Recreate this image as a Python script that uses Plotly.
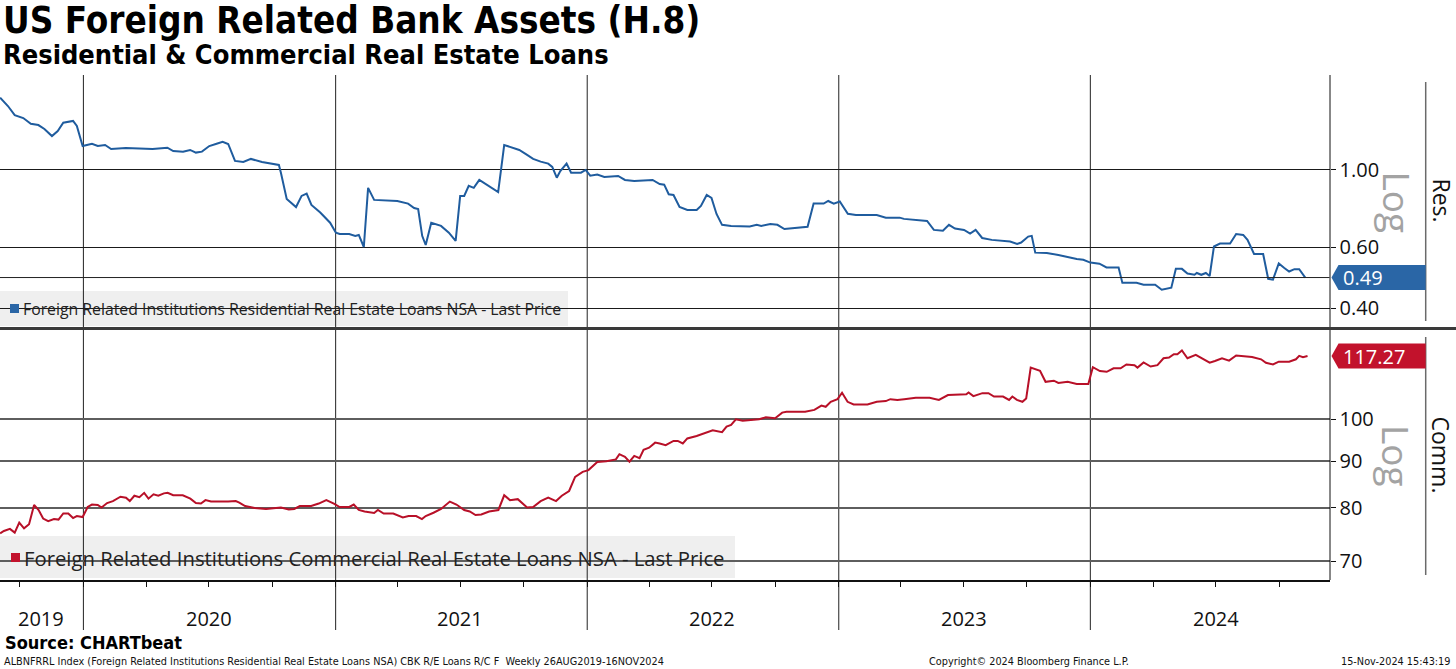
import math
import pandas as pd
import plotly.graph_objects as go

# ---------------- data (decimal years) ----------------
TITLE = "US Foreign Related Bank Assets (H.8)"
SUBTITLE = "Residential & Commercial Real Estate Loans"
RES_NAME = "Foreign Related Institutions Residential Real Estate Loans NSA - Last Price"
COM_NAME = "Foreign Related Institutions Commercial Real Estate Loans NSA - Last Price"

res_t = [2019.669, 2019.700, 2019.727, 2019.761, 2019.791, 2019.821, 2019.845, 2019.875, 2019.898, 2019.920,
         2019.959, 2019.974, 2019.997, 2020.034, 2020.057, 2020.086, 2020.110, 2020.168, 2020.274, 2020.333,
         2020.356, 2020.395, 2020.423, 2020.446, 2020.470, 2020.499, 2020.528, 2020.552, 2020.574, 2020.601,
         2020.634, 2020.664, 2020.708, 2020.753, 2020.775, 2020.783, 2020.806, 2020.843, 2020.865, 2020.885,
         2020.904, 2020.939, 2020.978, 2021.001, 2021.016, 2021.054, 2021.078, 2021.092, 2021.112, 2021.129,
         2021.153, 2021.245, 2021.288, 2021.312, 2021.328, 2021.344, 2021.358, 2021.380, 2021.419, 2021.450,
         2021.477, 2021.495, 2021.511, 2021.529, 2021.549, 2021.571, 2021.610, 2021.646, 2021.670, 2021.702,
         2021.730, 2021.761, 2021.785, 2021.815, 2021.845, 2021.861, 2021.879, 2021.893, 2021.918, 2021.936,
         2021.975, 2021.994, 2022.012, 2022.040, 2022.068, 2022.123, 2022.150, 2022.187, 2022.260, 2022.288,
         2022.306, 2022.324, 2022.343, 2022.367, 2022.398, 2022.435, 2022.452, 2022.475, 2022.494, 2022.514,
         2022.536, 2022.572, 2022.646, 2022.674, 2022.692, 2022.728, 2022.756, 2022.784, 2022.828, 2022.876,
         2022.900, 2022.940, 2022.958, 2022.980, 2023.004, 2023.036, 2023.068, 2023.151, 2023.187, 2023.242,
         2023.259, 2023.351, 2023.378, 2023.414, 2023.438, 2023.462, 2023.498, 2023.522, 2023.544, 2023.570,
         2023.608, 2023.644, 2023.681, 2023.709, 2023.725, 2023.753, 2023.767, 2023.781, 2023.827, 2023.873,
         2023.919, 2023.946, 2023.972, 2024.000, 2024.036, 2024.064, 2024.112, 2024.127, 2024.183, 2024.211,
         2024.257, 2024.283, 2024.321, 2024.339, 2024.363, 2024.385, 2024.413, 2024.422, 2024.440, 2024.458,
         2024.473, 2024.490, 2024.514, 2024.554, 2024.578, 2024.606, 2024.623, 2024.649, 2024.685, 2024.705,
         2024.724, 2024.747, 2024.769, 2024.788, 2024.809, 2024.828, 2024.852]
res_v = [1.615, 1.528, 1.439, 1.411, 1.359, 1.347, 1.312, 1.252, 1.295, 1.368,
         1.384, 1.339, 1.172, 1.190, 1.172, 1.180, 1.149, 1.157, 1.149, 1.159,
         1.134, 1.129, 1.142, 1.122, 1.129, 1.172, 1.190, 1.206, 1.188, 1.062,
         1.054, 1.076, 1.054, 1.041, 1.034, 0.982, 0.825, 0.782, 0.842, 0.855,
         0.793, 0.754, 0.705, 0.660, 0.654, 0.654, 0.646, 0.650, 0.600, 0.888,
         0.820, 0.814, 0.800, 0.777, 0.772, 0.646, 0.608, 0.705, 0.690, 0.660,
         0.625, 0.842, 0.842, 0.900, 0.888, 0.936, 0.900, 0.864, 1.180, 1.159,
         1.142, 1.105, 1.076, 1.057, 1.043, 1.020, 0.950, 0.993, 1.043, 0.982,
         0.982, 1.000, 0.963, 0.970, 0.955, 0.961, 0.936, 0.930, 0.936, 0.911,
         0.907, 0.851, 0.847, 0.782, 0.767, 0.767, 0.788, 0.847, 0.831, 0.747,
         0.695, 0.690, 0.687, 0.695, 0.690, 0.699, 0.695, 0.676, 0.681, 0.686,
         0.800, 0.800, 0.814, 0.800, 0.811, 0.748, 0.742, 0.742, 0.729, 0.729,
         0.723, 0.713, 0.672, 0.668, 0.695, 0.678, 0.672, 0.656, 0.672, 0.637,
         0.629, 0.625, 0.622, 0.612, 0.618, 0.643, 0.646, 0.578, 0.577, 0.569,
         0.559, 0.554, 0.551, 0.541, 0.537, 0.524, 0.524, 0.473, 0.473, 0.467,
         0.467, 0.452, 0.458, 0.519, 0.519, 0.503, 0.499, 0.505, 0.499, 0.505,
         0.495, 0.602, 0.614, 0.614, 0.654, 0.650, 0.629, 0.573, 0.573, 0.486,
         0.483, 0.538, 0.522, 0.510, 0.518, 0.518, 0.490]

com_t = [2019.669, 2019.684, 2019.708, 2019.727, 2019.745, 2019.764, 2019.784, 2019.804, 2019.822, 2019.840,
         2019.860, 2019.883, 2019.901, 2019.920, 2019.940, 2019.959, 2019.974, 2019.997, 2020.017, 2020.034,
         2020.057, 2020.072, 2020.094, 2020.117, 2020.147, 2020.169, 2020.184, 2020.202, 2020.222, 2020.241,
         2020.258, 2020.278, 2020.297, 2020.319, 2020.334, 2020.356, 2020.394, 2020.424, 2020.446, 2020.466,
         2020.484, 2020.506, 2020.574, 2020.604, 2020.618, 2020.641, 2020.679, 2020.724, 2020.783, 2020.814,
         2020.836, 2020.858, 2020.903, 2020.933, 2020.963, 2020.993, 2021.016, 2021.054, 2021.072, 2021.092,
         2021.115, 2021.153, 2021.168, 2021.191, 2021.229, 2021.267, 2021.290, 2021.320, 2021.343, 2021.358,
         2021.389, 2021.419, 2021.454, 2021.480, 2021.511, 2021.533, 2021.556, 2021.579, 2021.610, 2021.647,
         2021.670, 2021.693, 2021.724, 2021.761, 2021.785, 2021.815, 2021.845, 2021.876, 2021.899, 2021.928,
         2021.952, 2021.982, 2022.005, 2022.040, 2022.076, 2022.114, 2022.128, 2022.150, 2022.168, 2022.187,
         2022.208, 2022.224, 2022.246, 2022.270, 2022.288, 2022.312, 2022.343, 2022.360, 2022.380, 2022.398,
         2022.435, 2022.472, 2022.499, 2022.536, 2022.554, 2022.572, 2022.591, 2022.618, 2022.655, 2022.683,
         2022.710, 2022.747, 2022.775, 2022.792, 2022.866, 2022.903, 2022.931, 2022.948, 2022.968, 2022.995,
         2023.013, 2023.035, 2023.059, 2023.114, 2023.151, 2023.187, 2023.205, 2023.233, 2023.260, 2023.306,
         2023.361, 2023.398, 2023.434, 2023.507, 2023.516, 2023.535, 2023.571, 2023.595, 2023.617, 2023.653,
         2023.677, 2023.690, 2023.708, 2023.730, 2023.745, 2023.763, 2023.800, 2023.822, 2023.855, 2023.873,
         2023.910, 2023.946, 2023.992, 2024.010, 2024.038, 2024.065, 2024.092, 2024.120, 2024.143, 2024.175,
         2024.187, 2024.211, 2024.239, 2024.266, 2024.290, 2024.312, 2024.331, 2024.345, 2024.363, 2024.385,
         2024.418, 2024.444, 2024.473, 2024.494, 2024.522, 2024.550, 2024.578, 2024.641, 2024.677, 2024.696,
         2024.724, 2024.747, 2024.788, 2024.815, 2024.828, 2024.843, 2024.861]
com_v = [75.05, 75.5, 75.9, 75.2, 77.1, 76.0, 76.8, 80.6, 79.6, 77.9,
         77.4, 77.8, 77.7, 78.9, 78.9, 78.0, 78.4, 78.2, 80.2, 80.7,
         80.6, 80.1, 81.0, 81.4, 82.3, 82.1, 81.4, 82.5, 82.2, 83.1,
         81.9, 82.8, 82.5, 83.0, 83.1, 82.6, 82.6, 81.9, 81.0, 80.9,
         81.6, 81.3, 81.3, 81.4, 81.1, 80.4, 80.0, 79.8, 80.1, 79.7,
         79.8, 80.4, 80.4, 80.9, 81.6, 80.9, 80.2, 80.2, 80.7, 79.6,
         79.3, 79.0, 79.6, 78.9, 78.9, 78.1, 78.4, 78.4, 77.8, 78.4,
         79.05, 79.8, 81.3, 80.7, 79.6, 79.3, 78.6, 78.7, 79.3, 79.6,
         82.6, 81.6, 81.8, 80.1, 80.2, 81.4, 82.1, 81.4, 82.5, 83.5,
         86.5, 87.6, 88.0, 89.8, 90.0, 90.4, 91.6, 91.0, 89.9, 91.2,
         90.7, 92.6, 93.1, 94.3, 94.1, 93.7, 94.7, 94.7, 94.1, 95.3,
         95.9, 96.8, 97.3, 96.8, 98.2, 98.6, 100.0, 99.65, 99.8, 100.0,
         100.5, 100.25, 101.7, 101.9, 101.9, 102.4, 103.5, 103.2, 104.5, 105.2,
         106.9, 104.5, 103.8, 103.8, 104.5, 104.7, 105.2, 105.0, 105.2, 105.6,
         105.6, 105.0, 106.3, 106.5, 107.0, 106.0, 106.8, 106.8, 105.9, 105.9,
         105.0, 105.9, 105.0, 104.5, 105.4, 113.9, 113.0, 109.9, 110.2, 109.6,
         109.9, 109.3, 109.3, 114.0, 112.9, 112.7, 113.7, 113.7, 114.8, 114.6,
         113.9, 115.4, 114.2, 114.6, 116.6, 116.8, 117.8, 117.8, 118.9, 116.6,
         117.6, 116.6, 115.3, 115.8, 116.6, 115.9, 117.4, 117.0, 116.3, 115.3,
         114.8, 115.6, 115.6, 116.3, 117.3, 116.9, 117.27]

RES_TICKS = [0.40, 0.60, 1.00]
COM_TICKS = [70, 80, 90, 100]
RES_RANGE = [0.353, 1.877]
COM_RANGE = [66.74, 125.2]
X_RANGE = ["2019-09-02", "2024-12-13"]
YEAR_STARTS = ["2020-01-01", "2021-01-01", "2022-01-01", "2023-01-01", "2024-01-01"]
YEAR_LABELS = ["2019", "2020", "2021", "2022", "2023", "2024"]
YEAR_LABEL_AT = ["2019-10-31", "2020-07-01", "2021-07-01", "2022-07-01", "2023-07-01", "2024-07-01"]

SOURCE = "Source: CHARTbeat"
FOOT_LEFT = "ALBNFRRL Index (Foreign Related Institutions Residential Real Estate Loans NSA) CBK R/E Loans R/C F  Weekly 26AUG2019-16NOV2024"
FOOT_MID = "Copyright\u00a9 2024 Bloomberg Finance L.P."
FOOT_RIGHT = "15-Nov-2024 15:43:19"

# ---------------- helpers ----------------
def to_date(t):
    y = int(math.floor(t))
    start = pd.Timestamp(year=y, month=1, day=1)
    days = (pd.Timestamp(year=y + 1, month=1, day=1) - start).days
    return start + pd.Timedelta(days=(t - y) * days)

res_dates = [to_date(t) for t in res_t]
com_dates = [to_date(t) for t in com_t]

W, H = 1456, 669
def px(p):
    return p / W
def py(p):
    return 1 - p / H

PR = 1329.5  # right edge of plot area (px)
BLUE = "#1f5c9e"
BLUE_BOX = "#2a66a6"
RED = "#b81028"
RED_BOX = "#c2122c"
TICK_FONT = dict(family="Open Sans, Noto Sans, sans-serif", size=20, color="#111")
COND = "DejaVu Sans Condensed, DejaVu Sans, sans-serif"

fig = go.Figure()
fig.add_trace(go.Scatter(x=com_dates, y=com_v, mode="lines", line=dict(color=RED, width=2),
                         xaxis="x", yaxis="y", showlegend=False, hoverinfo="skip"))
fig.add_trace(go.Scatter(x=res_dates, y=res_v, mode="lines", line=dict(color=BLUE, width=2),
                         xaxis="x", yaxis="y2", showlegend=False, hoverinfo="skip"))

shapes = []
annotations = []

# legend boxes (behind grid)
shapes.append(dict(type="rect", xref="paper", yref="paper", x0=0, x1=px(568), y0=py(326), y1=py(291),
                   fillcolor="#efefef", line=dict(width=0), layer="below"))
shapes.append(dict(type="rect", xref="paper", yref="paper", x0=0, x1=px(735), y0=py(578), y1=py(536),
                   fillcolor="#efefef", line=dict(width=0), layer="below"))
shapes.append(dict(type="rect", xref="paper", yref="paper", x0=px(10), x1=px(19), y0=py(313), y1=py(304),
                   fillcolor=BLUE_BOX, line=dict(width=0)))
shapes.append(dict(type="rect", xref="paper", yref="paper", x0=px(11), x1=px(20), y0=py(562), y1=py(553),
                   fillcolor=RED_BOX, line=dict(width=0)))
annotations.append(dict(text=RES_NAME, xref="paper", yref="paper", x=px(21), y=py(309), xanchor="left",
                        yanchor="middle", showarrow=False, font=dict(family="Open Sans, sans-serif", size=15.8, color="#222")))
annotations.append(dict(text=COM_NAME, xref="paper", yref="paper", x=px(22), y=py(558), xanchor="left",
                        yanchor="middle", showarrow=False, font=dict(family="Open Sans, sans-serif", size=20.3, color="#222")))

# year separators
for d in YEAR_STARTS:
    shapes.append(dict(type="line", xref="x", yref="paper", x0=d, x1=d, y0=py(630), y1=py(75),
                       line=dict(color="#222", width=1), layer="below"))
for lab, d in zip(YEAR_LABELS, YEAR_LABEL_AT):
    annotations.append(dict(text=lab, xref="x", yref="paper", x=d, y=py(618), xanchor="center",
                            yanchor="middle", showarrow=False, font=TICK_FONT))

# last-price line in the residential panel
shapes.append(dict(type="line", xref="paper", yref="y2", x0=0, x1=px(PR), y0=res_v[-1], y1=res_v[-1],
                   line=dict(color="#222", width=1)))

# right border, separator, side rails
shapes.append(dict(type="line", xref="paper", yref="paper", x0=px(PR + 0.5), x1=px(PR + 0.5), y0=py(580), y1=py(75),
                   line=dict(color="#111", width=1)))
shapes.append(dict(type="line", xref="paper", yref="paper", x0=0, x1=1, y0=py(328.5), y1=py(328.5),
                   line=dict(color="#3a3a3a", width=3)))
shapes.append(dict(type="line", xref="paper", yref="paper", x0=px(1425.7), x1=px(1425.7), y0=py(321), y1=py(82),
                   line=dict(color="#6a6a6a", width=1.5)))
shapes.append(dict(type="line", xref="paper", yref="paper", x0=px(1425.7), x1=px(1425.7), y0=py(575), y1=py(337),
                   line=dict(color="#6a6a6a", width=1.5)))

# value tags (pentagon pointing left) anchored to last values
for val, yref, col in [(res_v[-1], "y2", BLUE_BOX), (com_v[-1], "y", RED_BOX)]:
    shapes.append(dict(type="path", xref="paper", yref=yref, ysizemode="pixel", yanchor=val,
                       path=f"M {px(1331.5)},0 L {px(1338.5)},12.5 L {px(1425.7)},12.5 L {px(1425.7)},-12.5 L {px(1338.5)},-12.5 Z",
                       fillcolor=col, line=dict(width=0)))
annotations.append(dict(text=f"{res_v[-1]:.2f}", xref="paper", yref="y2", x=px(1341), y=math.log10(res_v[-1]),
                        xanchor="left", yanchor="middle", showarrow=False,
                        font=dict(family="Open Sans, sans-serif", size=20, color="white")))
annotations.append(dict(text=f"{com_v[-1]:.2f}", xref="paper", yref="y", x=px(1341), y=math.log10(com_v[-1]),
                        xanchor="left", yanchor="middle", showarrow=False,
                        font=dict(family="Open Sans, sans-serif", size=20, color="white")))

# side labels
annotations.append(dict(text="Log", xref="paper", yref="paper", x=px(1397), y=py(202.5), textangle=90,
                        showarrow=False, xanchor="center", yanchor="middle",
                        font=dict(family="Open Sans, sans-serif", size=37, color="#a3a3a3")))
annotations.append(dict(text="Log", xref="paper", yref="paper", x=px(1397), y=py(456), textangle=90,
                        showarrow=False, xanchor="center", yanchor="middle",
                        font=dict(family="Open Sans, sans-serif", size=37, color="#a3a3a3")))
annotations.append(dict(text="Res.", xref="paper", yref="paper", x=px(1441), y=py(200.5), textangle=90,
                        showarrow=False, xanchor="center", yanchor="middle",
                        font=dict(family="Open Sans, sans-serif", size=23, color="#111")))
annotations.append(dict(text="Comm.", xref="paper", yref="paper", x=px(1440.5), y=py(455), textangle=90,
                        showarrow=False, xanchor="center", yanchor="middle",
                        font=dict(family="Open Sans, sans-serif", size=23, color="#111")))

# titles and footer
annotations.append(dict(text=f"<b>{TITLE}</b>", xref="paper", yref="paper", x=px(1), y=py(20), xanchor="left",
                        yanchor="middle", showarrow=False, font=dict(family=COND, size=36.5, color="#000")))
annotations.append(dict(text=f"<b>{SUBTITLE}</b>", xref="paper", yref="paper", x=px(1), y=py(55), xanchor="left",
                        yanchor="middle", showarrow=False, font=dict(family=COND, size=27, color="#000")))
annotations.append(dict(text=f"<b>{SOURCE}</b>", xref="paper", yref="paper", x=px(3), y=py(642), xanchor="left",
                        yanchor="middle", showarrow=False, font=dict(family=COND, size=18, color="#000")))
FOOT_FONT = dict(family="Liberation Sans Narrow, DejaVu Sans Condensed, sans-serif", size=10.8, color="#111")
annotations.append(dict(text=FOOT_LEFT, xref="paper", yref="paper", x=px(2), y=py(661), xanchor="left",
                        yanchor="middle", showarrow=False, font=FOOT_FONT))
annotations.append(dict(text=FOOT_MID, xref="paper", yref="paper", x=px(927), y=py(661), xanchor="left",
                        yanchor="middle", showarrow=False, font=FOOT_FONT))
annotations.append(dict(text=FOOT_RIGHT, xref="paper", yref="paper", x=px(1452), y=py(661), xanchor="right",
                        yanchor="middle", showarrow=False, font=FOOT_FONT))

fig.update_layout(
    width=W, height=H, margin=dict(l=0, r=0, t=0, b=0),
    paper_bgcolor="white", plot_bgcolor="rgba(0,0,0,0)", showlegend=False,
    xaxis=dict(type="date", domain=[0, px(PR)], range=X_RANGE, anchor="y", showgrid=False,
               showline=True, linecolor="#111", linewidth=1.5, ticks="outside", ticklen=5,
               tickcolor="#111", dtick="M3", tick0="2020-01-01", showticklabels=False, zeroline=False),
    yaxis=dict(type="log", domain=[py(580), py(330)], range=[math.log10(COM_RANGE[0]), math.log10(COM_RANGE[1])],
               anchor="x", side="right", tickvals=COM_TICKS, ticktext=[str(v) for v in COM_TICKS],
               showgrid=True, gridcolor="#5e5e5e", gridwidth=1.5, ticks="outside", ticklen=5,
               tickcolor="#111", tickfont=TICK_FONT, showline=False, zeroline=False),
    yaxis2=dict(type="log", domain=[py(327), py(75)], range=[math.log10(RES_RANGE[0]), math.log10(RES_RANGE[1])],
                anchor="x", side="right", tickvals=RES_TICKS, ticktext=[f"{v:.2f}" for v in RES_TICKS],
                showgrid=True, gridcolor="#1a1a1a", gridwidth=1, ticks="outside", ticklen=5,
                tickcolor="#111", tickfont=TICK_FONT, showline=False, zeroline=False),
    shapes=shapes, annotations=annotations,
)

fig.write_html("out.html", config={"displayModeBar": False},
               post_script="document.body.style.margin='0';document.body.style.overflow='hidden';")
